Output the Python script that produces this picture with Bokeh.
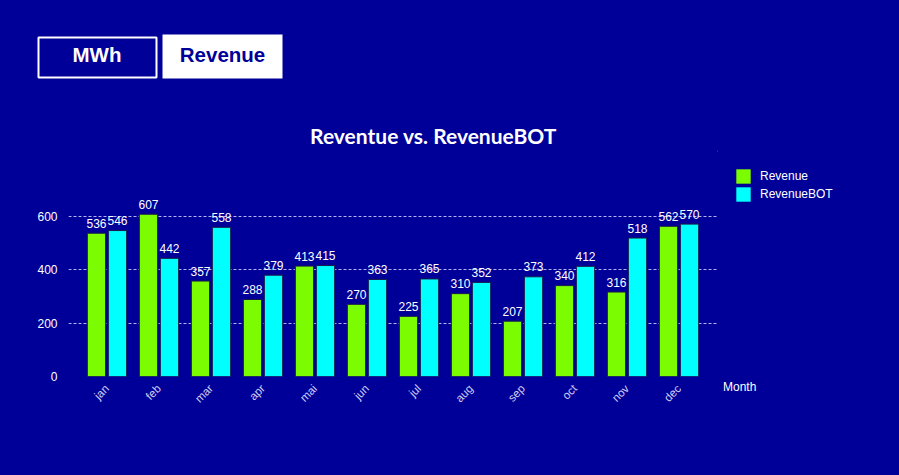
import math
from bokeh.plotting import figure
from bokeh.layouts import column, row
from bokeh.models import (ColumnDataSource, FactorRange, Range1d, FixedTicker,
                          Legend, LegendItem, Title)
from bokeh.transform import dodge
from bokeh.embed import file_html
from bokeh.resources import INLINE
from bokeh.core.properties import value

months = ["jan", "feb", "mar", "apr", "mai", "jun", "jul", "aug", "sep", "oct", "nov", "dec"]
revenue = [536, 607, 357, 288, 413, 270, 225, 310, 207, 340, 316, 562]
revenue_bot = [546, 442, 558, 379, 415, 363, 365, 352, 373, 412, 518, 570]
y_ticks = [0, 200, 400, 600]
title_text = "Reventue vs. RevenueBOT"
series_names = ["Revenue", "RevenueBOT"]
button_labels = ["MWh", "Revenue"]
x_axis_name = "Month"

BG = "#000099"
GREEN = "#7CFC00"
CYAN = "#00FFFF"
GRID = "#B4B4F4"
W, H = 899, 475
HEAD_H = 150
MAIN_W = 717
SIDE_W = W - MAIN_W
BODY_H = H - HEAD_H
BG_STYLE = {"background-color": BG}

# ---------------- header (buttons + title) ----------------
head = figure(width=W, height=HEAD_H, output_backend="svg", toolbar_location=None,
              x_range=Range1d(0, W), y_range=Range1d(HEAD_H, 0),
              x_axis_type=None, y_axis_type=None,
              background_fill_color=BG, border_fill_color=BG, outline_line_color=None,
              min_border=0, styles=BG_STYLE)
head.grid.visible = False
# MWh button (outlined)
head.quad(left=[38], right=[156], top=[37], bottom=[77],
          fill_alpha=0, line_color="white", line_width=2)
# Revenue button (filled)
head.quad(left=[162], right=[282], top=[34], bottom=[78],
          fill_color="white", line_color="white", line_width=0)
head.text(x=[96.5, 222], y=[54, 54], text=button_labels,
          text_color=["white", BG], text_align="center", text_baseline="middle",
          text_font=value("Liberation Sans"), text_font_style="bold", text_font_size="20.5px")
head.text(x=[433], y=[135], text=[title_text], text_align="center", text_baseline="middle",
          text_color="white", text_font=value("Lato"), text_font_style="bold",
          text_font_size="21px")

# ---------------- main chart ----------------
src = ColumnDataSource(dict(month=months, rev=revenue, bot=revenue_bot,
                            rev_t=[str(v) for v in revenue], bot_t=[str(v) for v in revenue_bot]))

FRAME_H = 226
BOTTOM = BODY_H - FRAME_H
y_end = FRAME_H / (160.4 / 600)

p = figure(width=MAIN_W, height=BODY_H, output_backend="svg", toolbar_location=None,
           x_range=FactorRange(*months, range_padding=0.04), y_range=Range1d(0, y_end),
           background_fill_color=BG, border_fill_color=BG, outline_line_color=None,
           min_border_left=68, min_border_right=0, min_border_top=0, min_border_bottom=BOTTOM,
           styles=BG_STYLE)

r1 = p.vbar(x=dodge("month", -0.202, range=p.x_range), top="rev", width=0.352, source=src,
            fill_color=GREEN, line_color="#1a1a4a", line_width=1)
r2 = p.vbar(x=dodge("month", 0.202, range=p.x_range), top="bot", width=0.352, source=src,
            fill_color=CYAN, line_color="#1a1a4a", line_width=1)

p.text(x=dodge("month", -0.202, range=p.x_range), y="rev", text="rev_t", source=src,
       text_align="center", text_baseline="middle", y_offset=-10, text_color="white",
       text_font=value("Liberation Sans"), text_font_size="12px")
p.text(x=dodge("month", 0.202, range=p.x_range), y="bot", text="bot_t", source=src,
       text_align="center", text_baseline="middle", y_offset=-10, text_color="white",
       text_font=value("Liberation Sans"), text_font_size="12px")

p.xgrid.grid_line_color = None
p.ygrid.grid_line_color = GRID
p.ygrid.grid_line_dash = "3 2"
p.ygrid.grid_line_width = 1
p.yaxis.ticker = FixedTicker(ticks=y_ticks)
for ax in (p.xaxis[0], p.yaxis[0]):
    ax.axis_line_color = None
    ax.major_tick_line_color = None
    ax.minor_tick_line_color = None
    ax.major_label_text_color = "white"
    ax.major_label_text_font = "Liberation Sans"
    ax.major_label_text_font_size = "12px"
p.yaxis.major_label_standoff = 5
p.xaxis.major_label_orientation = math.pi / 4
p.xaxis.major_label_text_color = "#D0D0F4"
p.xaxis.major_label_text_font_size = "11.5px"
p.xaxis.major_label_standoff = 4

# ---------------- right side (legend + axis name) ----------------
side = figure(width=SIDE_W, height=BODY_H, output_backend="svg", toolbar_location=None,
              x_range=Range1d(0, SIDE_W), y_range=Range1d(FRAME_H, 0),
              x_axis_type=None, y_axis_type=None,
              background_fill_color=BG, border_fill_color=BG, outline_line_color=None,
              min_border_left=0, min_border_right=0, min_border_top=0, min_border_bottom=BOTTOM,
              styles=BG_STYLE)
side.grid.visible = False
# legend proxies (placed outside the visible range; only their legend swatches are seen)
g1 = side.vbar(x=[-100], top=[1], width=1, fill_color=GREEN, line_color=None)
g2 = side.vbar(x=[-100], top=[1], width=1, fill_color=CYAN, line_color=None)
legend = Legend(items=[LegendItem(label=series_names[0], renderers=[g1]),
                       LegendItem(label=series_names[1], renderers=[g2])],
                location=(17, 173), orientation="vertical",
                background_fill_alpha=0, border_line_color=None, padding=0, margin=0, spacing=0,
                glyph_width=18, glyph_height=18, label_height=18, label_standoff=8,
                label_text_color="white", label_text_font="Liberation Sans",
                label_text_font_size="12px", label_text_baseline="middle")
try:
    legend.spacing = -3
except Exception:
    legend.glyph_height = 15
    legend.label_height = 15
    legend.glyph_width = 15
    legend.location = (19, 178)
    legend.label_standoff = 9
side.add_layout(legend, "center")
side.add_layout(Title(text=x_axis_name, align="left", offset=5.5, standoff=2,
                      text_color="white", text_font="Liberation Sans", text_font_style="normal",
                      text_font_size="12px"), "below")

layout = column(head, row(p, side, spacing=0, styles=BG_STYLE), spacing=0, styles=BG_STYLE)
open("out.html", "w").write(file_html(layout, INLINE))
